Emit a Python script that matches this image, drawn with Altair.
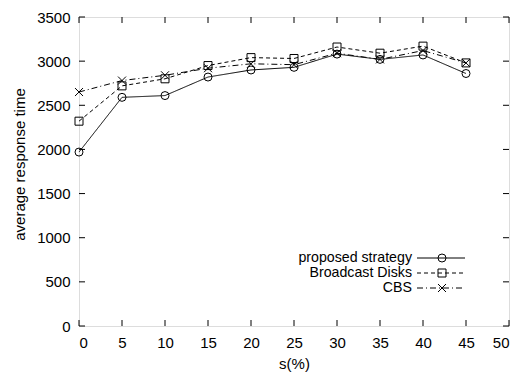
import altair as alt
import pandas as pd

s_values = [0, 5, 10, 15, 20, 25, 30, 35, 40, 45]
proposed = [1970, 2590, 2610, 2820, 2900, 2930, 3080, 3020, 3070, 2860]
broadcast = [2320, 2720, 2800, 2950, 3040, 3030, 3160, 3090, 3170, 2980]
cbs = [2650, 2780, 2840, 2920, 2970, 2960, 3090, 3020, 3120, 2980]
series_names = ["proposed strategy", "Broadcast Disks", "CBS"]
x_ticks = [0, 5, 10, 15, 20, 25, 30, 35, 40, 45, 50]
y_ticks = [0, 500, 1000, 1500, 2000, 2500, 3000, 3500]

FONT = "Liberation Sans"
FS = 15
LFS = 14.2
W, H = 430, 309
XPATH = "M-1,-1L1,1M-1,1L1,-1"

rows = []
for name, vals in zip(series_names, [proposed, broadcast, cbs]):
    for s, v in zip(s_values, vals):
        rows.append({"s": s, "value": v, "series": name})
df = pd.DataFrame(rows)

xs = alt.Scale(domain=[0, 50], nice=False, zero=False)
ys = alt.Scale(domain=[0, 3500], nice=False, zero=False)
dash_scale = alt.Scale(domain=series_names, range=[[1, 0], [4, 3], [6, 3, 1, 3]])
shape_scale = alt.Scale(domain=series_names, range=["circle", "square", XPATH])

base = alt.Chart(df)

lines = base.mark_line(color="black", strokeWidth=1).encode(
    x=alt.X("s:Q", scale=xs, axis=alt.Axis(
        values=x_ticks, format="d", grid=False, domain=False, ticks=False,
        labelFont=FONT, labelFontSize=FS, labelColor="black", labelPadding=9,
        labelFontWeight="normal", title="s(%)", titleFont=FONT,
        titleFontSize=FS, titleFontWeight="normal", titleColor="black",
        titleX=W / 2, titleY=37, titleBaseline="middle")),
    y=alt.Y("value:Q", scale=ys, axis=alt.Axis(
        values=y_ticks, format="d", grid=False, domain=False, ticks=False,
        labelFont=FONT, labelFontSize=FS, labelColor="black", labelPadding=9,
        title="average response time", titleFont=FONT, titleFontSize=FS,
        titleFontWeight="normal", titleColor="black", titleX=-60,
        titleY=147, titleBaseline="middle", titleAlign="center", titleAngle=-90)),
    strokeDash=alt.StrokeDash("series:N", scale=dash_scale, legend=None),
    detail="series:N",
)

points = base.mark_point(filled=False, color="black", strokeWidth=1, size=64, opacity=1).encode(
    x=alt.X("s:Q", scale=xs),
    y=alt.Y("value:Q", scale=ys),
    shape=alt.Shape("series:N", scale=shape_scale, legend=None),
)

xt = pd.DataFrame({"t": x_ticks})
yt = pd.DataFrame({"t": y_ticks})
tick_bottom = alt.Chart(xt).mark_rule(color="black", strokeWidth=1).encode(
    x=alt.X("t:Q", scale=xs), y=alt.value(H), y2=alt.value(H - 6))
tick_top = alt.Chart(xt).mark_rule(color="black", strokeWidth=1).encode(
    x=alt.X("t:Q", scale=xs), y=alt.value(0), y2=alt.value(6))
tick_left = alt.Chart(yt).mark_rule(color="black", strokeWidth=1).encode(
    y=alt.Y("t:Q", scale=ys), x=alt.value(0), x2=alt.value(6))
tick_right = alt.Chart(yt).mark_rule(color="black", strokeWidth=1).encode(
    y=alt.Y("t:Q", scale=ys), x=alt.value(W), x2=alt.value(W - 6))

legend_layers = []
leg_y = [241, 256, 271]
dashes = [[1, 0], [4, 3], [6, 3, 1, 3]]
shapes = ["circle", "square", XPATH]
for name, ly, dsh, shp in zip(series_names, leg_y, dashes, shapes):
    ld = pd.DataFrame({"series": [name]})
    legend_layers.append(alt.Chart(ld).mark_text(
        align="right", baseline="middle", font=FONT, fontSize=LFS, color="black").encode(
        text="series:N", x=alt.value(333), y=alt.value(ly)))
    legend_layers.append(alt.Chart(ld).mark_rule(color="black", strokeWidth=1, strokeDash=dsh).encode(
        x=alt.value(338), x2=alt.value(386), y=alt.value(ly)))
    legend_layers.append(alt.Chart(ld).mark_point(
        filled=False, color="black", strokeWidth=1, size=64, opacity=1, shape=shp).encode(
        x=alt.value(363), y=alt.value(ly)))

chart = alt.layer(
    lines, points, tick_bottom, tick_top, tick_left, tick_right, *legend_layers
).properties(
    width=W, height=H,
    autosize=alt.AutoSizeParams(type="none"),
    padding={"left": 71, "top": 9, "right": 8, "bottom": 48},
).configure_view(stroke="black", strokeWidth=1.2).configure(background="white")

chart.save("out.html", embed_options={"renderer": "svg", "actions": False})
